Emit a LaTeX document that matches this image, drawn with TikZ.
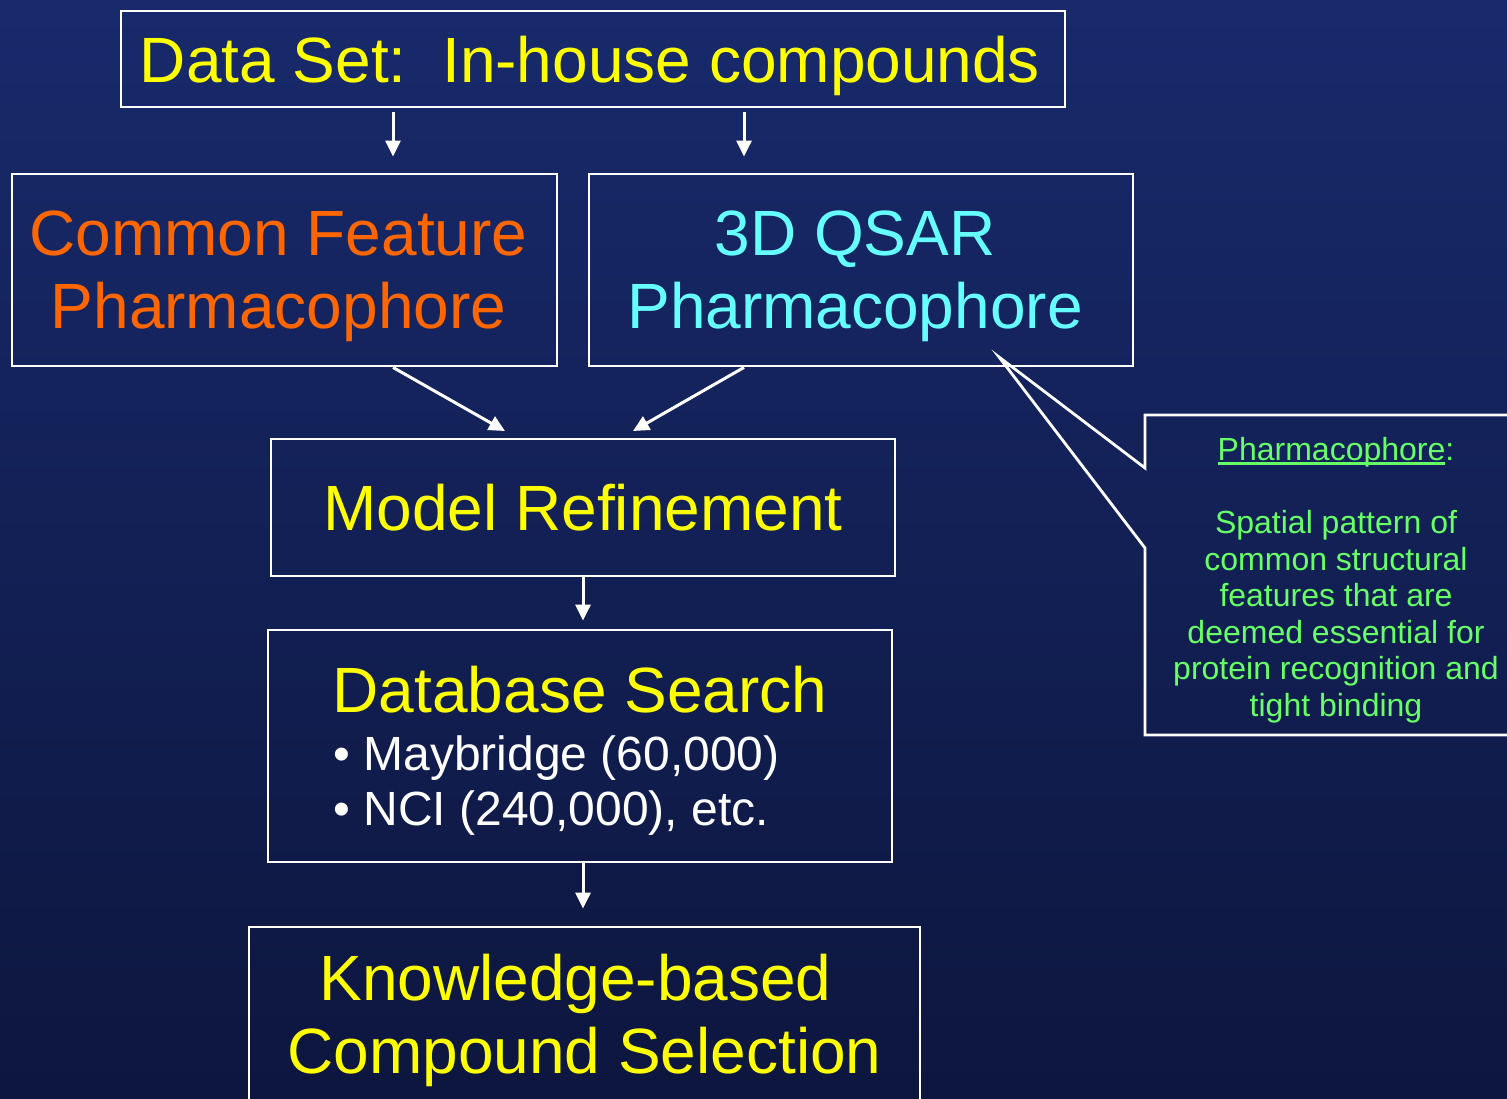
\documentclass[tikz,border=0pt]{standalone}
\usepackage{fontspec}
\setmainfont{Liberation Sans}
\usetikzlibrary{arrows.meta}
\definecolor{bgtop}{RGB}{24,42,108}
\definecolor{bgbot}{RGB}{13,22,62}
\definecolor{dsyellow}{RGB}{255,255,0}
\definecolor{cforange}{RGB}{255,102,0}
\definecolor{qcyan}{RGB}{102,255,255}
\definecolor{pgreen}{RGB}{102,255,102}
\newcommand{\thickul}[1]{{\setbox0\hbox{#1}\rlap{\rule[-2.2pt]{\wd0}{1.3pt}}\box0}}
\newcommand{\rpad}{\kern6pt\null}

\begin{document}
\begin{tikzpicture}[x=0.5pt, y=-0.5pt,
    box/.style={draw=white, line width=1.4pt, inner sep=0pt, align=center},
    big/.style={font=\fontsize{32}{36.5}\selectfont},
    oneline/.style={text height=23pt, text depth=0pt},
    twoline/.style={text depth=0pt},
    bullet/.style={text=white, inner sep=0pt, anchor=base west, font=\fontsize{24}{28}\selectfont},
    flow/.style={draw=white, line width=1.5pt, -{Triangle[length=8pt,width=7.5pt]}}]
        % Background
        \useasboundingbox (0,0) rectangle (1507,1098);
        \shade[top color=bgtop, bottom color=bgbot] (0,0) rectangle (1507,1098);

        % Data set
        \node[box, big, oneline, text=dsyellow, minimum width=472pt, minimum height=48pt] (dataset) at (593,59) {Data Set:\ \ In-house compounds\kern3pt\null};

        % Pharmacophore models
        \node[box, big, twoline, text=cforange, minimum width=272.5pt, minimum height=96pt] (cf) at (284.5,270) {Common Feature\rpad\\Pharmacophore\rpad};
        \node[box, big, twoline, text=qcyan, minimum width=272pt, minimum height=96pt] (q3d) at (861,270) {3D QSAR\rpad\\Pharmacophore\rpad};

        % Refinement
        \node[box, big, oneline, text=dsyellow, minimum width=312pt, minimum height=68.5pt] (mr) at (583,507.5) {Model Refinement};

        % Database search
        \node[box, minimum width=312pt, minimum height=116pt] (db) at (580,746) {};
        \node[big, text=dsyellow, inner sep=0pt, anchor=base] (dbtitle) at (580,712) {Database Search};
        \node[bullet] (may) at (333,770) {• Maybridge (60,000)};
        \node[bullet] (nci) at (333,825) {• NCI (240,000), etc.};

        % Selection
        \node[box, big, twoline, text=dsyellow, minimum width=335.5pt, minimum height=86.5pt] (kb) at (584.5,1013.5) {Knowledge-based\kern9pt\null\\Compound Selection};

        % Callout
        \coordinate (tip) at (999,357);
        \draw[white, line width=1.4pt] (1515,415) -- (1145,415) -- (1145,468) -- (tip) -- (1145,548) -- (1145,735) -- (1515,735);
        \node[text=pgreen, align=center, font=\fontsize{16}{18.25}\selectfont] (note) at (1336,580) {\thickul{Pharmacophore}:\\[18.25pt]Spatial pattern of\\common structural\\features that are\\deemed essential for\\protein recognition and\\tight binding};

        % Arrows
        \coordinate (cfin) at (393,0);
        \coordinate (qin) at (744,0);
        \coordinate (mrl) at (505,431);
        \coordinate (mrr) at (633,431);
        \draw[flow, shorten <=2pt, shorten >=8pt] (dataset.south -| cfin) -- (cf.north -| cfin);
        \draw[flow, shorten <=2pt, shorten >=8pt] (dataset.south -| qin) -- (q3d.north -| qin);
        \draw[flow] (cf.south -| cfin) -- (mrl);
        \draw[flow] (q3d.south -| qin) -- (mrr);
        \draw[flow, shorten >=4pt] (mr.south) -- (mr.south |- db.north);
        \draw[flow, shorten >=8.5pt] (db.south -| mr.south) -- (kb.north -| mr.south);
    \end{tikzpicture}
\end{document}
